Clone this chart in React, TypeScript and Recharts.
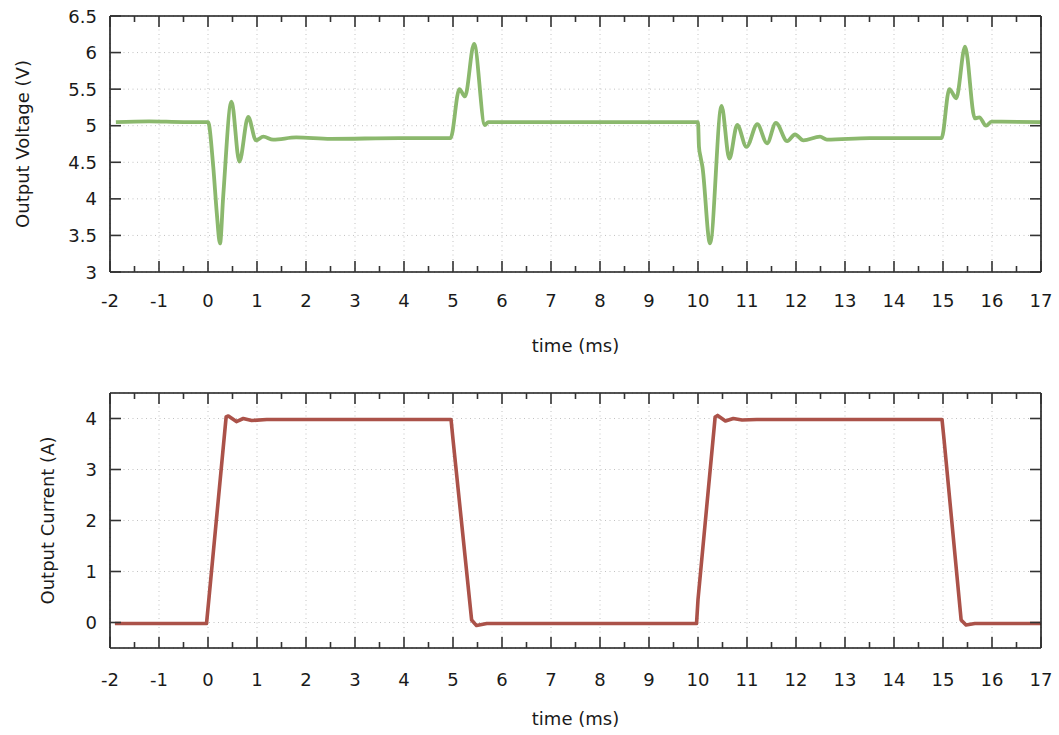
import { LineChart, Line, XAxis, YAxis, CartesianGrid, ReferenceLine } from "recharts";

// time axis (ms): labelled whole ms, unlabelled half-ms minor ticks
const timeTicks = [-2, -1, 0, 1, 2, 3, 4, 5, 6, 7, 8, 9, 10, 11, 12, 13, 14, 15, 16, 17];
const timeMinorTicks = [
  -1.5, -0.5, 0.5, 1.5, 2.5, 3.5, 4.5, 5.5, 6.5, 7.5, 8.5, 9.5, 10.5, 11.5, 12.5, 13.5,
  14.5, 15.5, 16.5,
];
const voltageTicks = [3, 3.5, 4, 4.5, 5, 5.5, 6, 6.5];
const currentTicks = [0, 1, 2, 3, 4];

// output voltage trace
const voltageTime = [
  -1.88, -1.2, -0.5, 0, 0.107, 0.18, 0.245, 0.31, 0.48, 0.64, 0.82, 0.98, 1.13, 1.33, 1.8,
  2.5, 3.9, 4.95, 5.13, 5.245, 5.43, 5.65, 5.72, 7.0, 10.0, 10.02, 10.05, 10.09, 10.245,
  10.48, 10.64, 10.8, 10.99, 11.21, 11.41, 11.59, 11.82, 11.98, 12.15, 12.49, 12.63, 13.5,
  14.97, 15.13, 15.27, 15.45, 15.65, 15.74, 15.88, 15.99, 17.0,
];
const voltageValue = [
  5.05, 5.06, 5.05, 5.05, 4.44, 3.8, 3.39, 4.03, 5.33, 4.51, 5.12, 4.8, 4.85, 4.81, 4.84,
  4.82, 4.83, 4.83, 5.5, 5.4, 6.12, 5.01, 5.05, 5.05, 5.05, 4.71, 4.58, 4.44, 3.39,
  5.27, 4.55, 5.01, 4.71, 5.02, 4.76, 5.04, 4.79, 4.88, 4.8, 4.85, 4.81, 4.83,
  4.83, 5.5, 5.375, 6.08, 5.1, 5.115, 5.0, 5.055, 5.05,
];

// output current trace
const currentTime = [
  -1.9, -0.03, 0.025, 0.37, 0.415, 0.58, 0.72, 0.89, 1.2, 4.96, 5.0, 5.38, 5.48, 5.69,
  9.97, 10.0, 10.35, 10.4, 10.56, 10.72, 10.9, 11.2, 14.98, 15.02, 15.37, 15.47, 15.65, 17,
];
const currentValue = [
  -0.02, -0.02, 0.53, 4.03, 4.05, 3.94, 4.0, 3.96, 3.98, 3.98, 3.59, 0.05, -0.06, -0.02,
  -0.02, 0.45, 4.03, 4.06, 3.95, 4.0, 3.97, 3.98, 3.98, 3.6, 0.05, -0.05, -0.02, -0.02,
];

const voltageData = voltageTime.map((t, i) => ({ t, v: voltageValue[i] }));
const currentData = currentTime.map((t, i) => ({ t, a: currentValue[i] }));
const allTimeTicks = [...timeTicks, ...timeMinorTicks].sort((a, b) => a - b);

const FONT = "'DejaVu Sans', sans-serif";
const TEXT = "#1a1a1a";
const FRAME = "#1a1a1a";
const PLOT_RIGHT = 1041;

// bottom axis tick: label + inward marks on bottom and top edges
const xTick = (plotTop: number, labelDy: number) => (p: any) => {
  const v = p.payload.value;
  const x = p.x;
  const bottom = p.y;
  const major = Number.isInteger(v);
  const len = major ? 11 : 6;
  return (
    <g>
      <line x1={x} x2={x} y1={bottom} y2={bottom - len} stroke="#333" strokeWidth={1.6} />
      <line x1={x} x2={x} y1={plotTop} y2={plotTop + len} stroke="#333" strokeWidth={1.6} />
      {major && (
        <text x={x} y={bottom + labelDy} textAnchor="middle" dominantBaseline="central"
          fontSize={18} fontFamily={FONT} fill={TEXT}>
          {v}
        </text>
      )}
    </g>
  );
};

// left axis tick: label + inward marks on left and right edges
const yTick = (p: any) => {
  const left = p.x;
  const y = p.y;
  return (
    <g>
      <line x1={left} x2={left + 11} y1={y} y2={y} stroke="#333" strokeWidth={1.6} />
      <line x1={PLOT_RIGHT} x2={PLOT_RIGHT - 11} y1={y} y2={y} stroke="#333" strokeWidth={1.6} />
      <text x={left - 13} y={y} textAnchor="end" dominantBaseline="central"
        fontSize={18} fontFamily={FONT} fill={TEXT}>
        {p.payload.value}
      </text>
    </g>
  );
};

const xTitle = (text: string, dy: number) => (props: any) => {
  const vb = props.viewBox || { x: 0, y: 0, width: 0, height: 0 };
  return (
    <text x={vb.x + vb.width / 2} y={vb.y + dy} textAnchor="middle" dominantBaseline="central"
      fontSize={18} fontFamily={FONT} fill={TEXT}>
      {text}
    </text>
  );
};

const yTitle = (text: string, dx: number) => (props: any) => {
  const vb = props.viewBox || { x: 0, y: 0, width: 0, height: 0 };
  const cx = vb.x + dx;
  const cy = vb.y + vb.height / 2;
  return (
    <text x={cx} y={cy} transform={`rotate(-90 ${cx} ${cy})`} textAnchor="middle"
      dominantBaseline="central" fontSize={18} fontFamily={FONT} fill={TEXT}>
      {text}
    </text>
  );
};

function frameLines(yMin: number, yMax: number) {
  return [
    <ReferenceLine key="fl" xAxisId="x" yAxisId="y" x={-2} stroke={FRAME} strokeWidth={1.6} ifOverflow="visible" />,
    <ReferenceLine key="fr" xAxisId="x" yAxisId="y" x={17} stroke={FRAME} strokeWidth={1.6} ifOverflow="visible" />,
    <ReferenceLine key="fb" xAxisId="x" yAxisId="y" y={yMin} stroke={FRAME} strokeWidth={1.6} ifOverflow="visible" />,
    <ReferenceLine key="ft" xAxisId="x" yAxisId="y" y={yMax} stroke={FRAME} strokeWidth={1.6} ifOverflow="visible" />,
  ];
}

export default function App() {
  return (
    <div style={{ position: "absolute", left: 0, top: 0, width: 1059, height: 735, background: "#ffffff" }}>
      <LineChart width={1059} height={372} data={voltageData}
        margin={{ top: 16, right: 18, bottom: 10, left: 0 }}>
        <CartesianGrid xAxisId="x" yAxisId="y" verticalValues={timeTicks}
          stroke="#c2c2c2" strokeDasharray="1 3.5" />
        <XAxis xAxisId="x" dataKey="t" type="number" domain={[-2, 17]} ticks={allTimeTicks}
          interval={0} allowDataOverflow height={90} tickLine={false} axisLine={false}
          tickSize={0} tickMargin={0} tick={xTick(16, 28)}
          label={{ content: xTitle("time (ms)", 73) }} />
        <YAxis yAxisId="y" type="number" domain={[3, 6.5]} ticks={voltageTicks} interval={0}
          allowDataOverflow width={110} tickLine={false} axisLine={false} tickSize={0}
          tickMargin={0} tick={yTick} label={{ content: yTitle("Output Voltage (V)", 22) }} />
        <Line xAxisId="x" yAxisId="y" dataKey="v" type="monotone" stroke="#8bb86d"
          strokeWidth={3.8} strokeLinejoin="round" dot={false} isAnimationActive={false} />
        {frameLines(3, 6.5)}
      </LineChart>
      <LineChart width={1059} height={363} data={currentData}
        margin={{ top: 21, right: 18, bottom: 7, left: 0 }}>
        <CartesianGrid xAxisId="x" yAxisId="y" verticalValues={timeTicks}
          stroke="#c2c2c2" strokeDasharray="1 3.5" />
        <XAxis xAxisId="x" dataKey="t" type="number" domain={[-2, 17]} ticks={allTimeTicks}
          interval={0} allowDataOverflow height={80} tickLine={false} axisLine={false}
          tickSize={0} tickMargin={0} tick={xTick(21, 31)}
          label={{ content: xTitle("time (ms)", 70) }} />
        <YAxis yAxisId="y" type="number" domain={[-0.5, 4.5]} ticks={currentTicks} interval={0}
          allowDataOverflow width={110} tickLine={false} axisLine={false} tickSize={0}
          tickMargin={0} tick={yTick} label={{ content: yTitle("Output Current (A)", 47) }} />
        <Line xAxisId="x" yAxisId="y" dataKey="a" type="linear" stroke="#ab5249"
          strokeWidth={3.6} strokeLinejoin="round" dot={false} isAnimationActive={false} />
        {frameLines(-0.5, 4.5)}
      </LineChart>
    </div>
  );
}
